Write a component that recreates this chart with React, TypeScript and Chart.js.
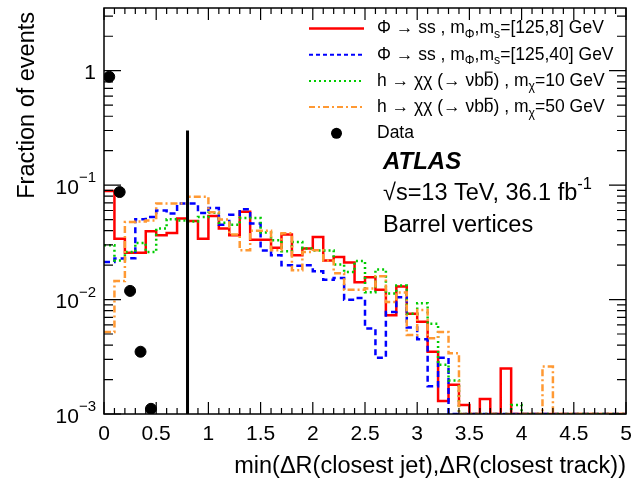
import React, { useEffect, useRef } from "react";
import { Chart, registerables } from "chart.js";

Chart.register(...registerables);

// ---- axis ranges / ticks ----
const X_MIN = 0;
const X_MAX = 5;
const Y_MIN = 1e-3;
const Y_MAX = 3.53;
const BIN_W = 0.1;
const X_TICK_VALUES = [0, 0.5, 1, 1.5, 2, 2.5, 3, 3.5, 4, 4.5, 5];
const X_TICK_LABELS = ["0", "0.5", "1", "1.5", "2", "2.5", "3", "3.5", "4", "4.5", "5"];
const Y_DECADES = [-3, -2, -1, 0];

// ---- series (fraction of events per 0.1 bin, from 0 to 5) ----
const phiSs_125_8 = [
  0.089, 0.034, 0.0257, 0.0257, 0.0395, 0.0365, 0.0382, 0.051, 0.0487, 0.034,
  0.0538, 0.0417, 0.0365, 0.0584, 0.0334, 0.0334, 0.0283, 0.037, 0.0244, 0.0279,
  0.0352, 0.022, 0.0236, 0.0211, 0.0142, 0.0157, 0.0122, 0.0073, 0.013, 0.0075,
  0.0064, 0.0035, 0.0013, 0.0018, 0.0012, 0, 0.00135, 0, 0.0025, 0,
  0, 0, 0, 0, 0, 0, 0, 0, 0, 0,
];
const phiSs_125_40 = [
  0.0213, 0.0228, 0.023, 0.0503, 0.0527, 0.06, 0.0565, 0.069, 0.069, 0.057,
  0.063, 0.045, 0.055, 0.0615, 0.0461, 0.0269, 0.0244, 0.0199, 0.0197, 0.0199,
  0.0177, 0.0149, 0.0154, 0.00997, 0.0103, 0.0056, 0.0031, 0.0078, 0.0105, 0.0057,
  0.0045, 0.00175, 0.0031, 0, 0, 0, 0, 0, 0, 0,
  0, 0, 0, 0, 0, 0, 0, 0, 0, 0,
];
const hChiChi_10 = [
  0.0298, 0.022, 0.026, 0.0312, 0.026, 0.0417, 0.0503, 0.049, 0.048, 0.0527,
  0.0575, 0.047, 0.045, 0.0516, 0.0516, 0.0385, 0.033, 0.0264, 0.0318, 0.028,
  0.0269, 0.0269, 0.0202, 0.0174, 0.0217, 0.0116, 0.0183, 0.0113, 0.0133, 0.0075,
  0.0093, 0.00615, 0.0027, 0.00196, 0, 0, 0, 0, 0, 0.0012,
  0, 0, 0, 0, 0, 0, 0, 0, 0, 0,
];
const hChiChi_50 = [
  0.0052, 0.0145, 0.0477, 0.048, 0.049, 0.069, 0.069, 0.069, 0.079, 0.079,
  0.058, 0.05, 0.037, 0.027, 0.04, 0.04, 0.027, 0.038, 0.018, 0.026,
  0.027, 0.022, 0.017, 0.0122, 0.0122, 0.0125, 0.016, 0.0095, 0.0115, 0.0049,
  0.0081, 0.0046, 0.0052, 0.0034, 0, 0, 0, 0, 0, 0,
  0, 0, 0.0026, 0, 0, 0, 0, 0, 0, 0,
];
const dataX = [0.05, 0.15, 0.25, 0.35, 0.45];
const dataY = [0.885, 0.087, 0.0119, 0.0035, 0.00111];
const cutX = 0.8;
const cutTop = 0.3;

const FONT = '"Liberation Sans", Arial, Helvetica, sans-serif';

function histPoints(vals: number[]) {
  const pts = vals.map((v, i) => ({
    x: Math.round(i * BIN_W * 10) / 10,
    y: v > 0 ? v : Y_MIN,
  }));
  pts.push({ x: X_MAX, y: pts[pts.length - 1].y });
  return pts;
}

type Seg = { t: string; sub?: boolean; sup?: boolean; over?: boolean };

function drawRich(ctx: CanvasRenderingContext2D, segs: Seg[], x: number, y: number, size: number, style = "") {
  let cx = x;
  ctx.textAlign = "left";
  ctx.textBaseline = "middle";
  for (const s of segs) {
    const sz = s.sub || s.sup ? size * 0.7 : size;
    ctx.font = `${style} ${sz}px ${FONT}`;
    const dy = s.sub ? size * 0.35 : s.sup ? -size * 0.42 : 0;
    ctx.fillText(s.t, cx, y + dy);
    const w = ctx.measureText(s.t).width;
    if (s.over) {
      ctx.save();
      ctx.lineWidth = 1.2;
      ctx.beginPath();
      ctx.moveTo(cx + 1, y - size * 0.5);
      ctx.lineTo(cx + w - 1, y - size * 0.5);
      ctx.stroke();
      ctx.restore();
    }
    cx += w;
  }
  return cx;
}

const LEGEND = [
  { color: "#ff0000", dash: [] as number[], width: 2.5, segs: [
    { t: "Φ → ss , m" }, { t: "Φ", sub: true }, { t: ",m" }, { t: "s", sub: true }, { t: "=[125,8] GeV" }] },
  { color: "#0000ff", dash: [4, 3], width: 2, segs: [
    { t: "Φ → ss , m" }, { t: "Φ", sub: true }, { t: ",m" }, { t: "s", sub: true }, { t: "=[125,40] GeV" }] },
  { color: "#00cc00", dash: [2, 3], width: 2, segs: [
    { t: "h → χχ (→ νb" }, { t: "b", over: true }, { t: ") , m" }, { t: "χ", sub: true }, { t: "=10 GeV" }] },
  { color: "#ff9933", dash: [6, 3, 2, 3], width: 2, segs: [
    { t: "h → χχ (→ νb" }, { t: "b", over: true }, { t: ") , m" }, { t: "χ", sub: true }, { t: "=50 GeV" }] },
];

const decorPlugin = {
  id: "decor",
  afterDraw(chart: any) {
    const { ctx, chartArea: ca, scales } = chart;
    const xs = scales.x;
    const ys = scales.y;
    ctx.save();
    ctx.strokeStyle = "#000";
    ctx.fillStyle = "#000";

    // frame
    ctx.lineWidth = 1.5;
    ctx.strokeRect(ca.left, ca.top, ca.right - ca.left, ca.bottom - ca.top);

    // x ticks (inward, bottom and top)
    ctx.lineWidth = 1.2;
    ctx.beginPath();
    for (let i = 0; i <= 50; i++) {
      const v = i * BIN_W;
      const px = xs.getPixelForValue(v);
      const len = i % 5 === 0 ? 12 : 6;
      ctx.moveTo(px, ca.bottom);
      ctx.lineTo(px, ca.bottom - len);
      ctx.moveTo(px, ca.top);
      ctx.lineTo(px, ca.top + len);
    }
    // y ticks (inward, left and right)
    for (const d of Y_DECADES) {
      for (let k = 1; k <= 9; k++) {
        const v = k * Math.pow(10, d);
        if (v > Y_MAX) break;
        const py = ys.getPixelForValue(v);
        const len = k === 1 ? 17 : 9;
        ctx.moveTo(ca.left, py);
        ctx.lineTo(ca.left + len, py);
        ctx.moveTo(ca.right, py);
        ctx.lineTo(ca.right - len, py);
      }
    }
    ctx.stroke();

    // x tick labels
    ctx.font = `21px ${FONT}`;
    ctx.textAlign = "center";
    ctx.textBaseline = "middle";
    X_TICK_VALUES.forEach((v, i) => {
      ctx.fillText(X_TICK_LABELS[i], xs.getPixelForValue(v), ca.bottom + 20);
    });

    // y tick labels
    for (const d of Y_DECADES) {
      const py = ys.getPixelForValue(Math.pow(10, d));
      const right = ca.left - 8;
      if (d === 0) {
        ctx.font = `21px ${FONT}`;
        ctx.textAlign = "right";
        ctx.fillText("1", right, py + 3);
      } else {
        const sup = String(d).replace("-", "−");
        ctx.font = `15px ${FONT}`;
        const sw = ctx.measureText(sup).width;
        ctx.font = `21px ${FONT}`;
        const bw = ctx.measureText("10").width;
        ctx.textAlign = "left";
        ctx.fillText("10", right - sw - bw, py + 3);
        ctx.font = `15px ${FONT}`;
        ctx.fillText(sup, right - sw, py - 7);
      }
    }

    // axis titles
    ctx.font = `23.5px ${FONT}`;
    ctx.textAlign = "right";
    ctx.textBaseline = "middle";
    ctx.fillText("min(ΔR(closest jet),ΔR(closest track))", ca.right, 467);
    ctx.save();
    ctx.translate(28, ca.top + 4);
    ctx.rotate(-Math.PI / 2);
    ctx.fillText("Fraction of events", 0, 0);
    ctx.restore();

    // legend
    const lx0 = 309, lx1 = 364, tx = 377;
    LEGEND.forEach((e, i) => {
      const yy = 28.5 + i * 26.2;
      ctx.save();
      ctx.strokeStyle = e.color;
      ctx.lineWidth = e.width;
      ctx.setLineDash(e.dash);
      ctx.beginPath();
      ctx.moveTo(lx0, yy);
      ctx.lineTo(lx1, yy);
      ctx.stroke();
      ctx.restore();
      ctx.fillStyle = "#000";
      drawRich(ctx, e.segs, tx, yy, 17.5);
    });
    const dy = 28.5 + 4 * 26.2;
    ctx.beginPath();
    ctx.arc((lx0 + lx1) / 2, dy, 5.5, 0, Math.PI * 2);
    ctx.fill();
    ctx.font = `17.5px ${FONT}`;
    ctx.textAlign = "left";
    ctx.fillText("Data", tx, dy);

    // ATLAS label
    ctx.font = `italic bold 24px ${FONT}`;
    ctx.fillText("ATLAS", 383, 162);
    drawRich(ctx, [{ t: "√s=13 TeV, 36.1 fb" }, { t: "-1", sup: true }], 383, 194, 23.5);
    ctx.font = `23.5px ${FONT}`;
    ctx.textAlign = "left";
    ctx.fillText("Barrel vertices", 383, 226);

    ctx.restore();
  },
};

export default function App() {
  const ref = useRef<HTMLCanvasElement>(null);
  useEffect(() => {
    document.body.style.margin = "0";
    const histo = (label: string, vals: number[], color: string, dash: number[], width: number, order: number) => ({
      type: "line" as const,
      label,
      data: histPoints(vals),
      borderColor: color,
      borderWidth: width,
      borderDash: dash,
      stepped: "before" as const,
      pointRadius: 0,
      fill: false,
      order,
    });
    const chart = new Chart(ref.current!, {
      type: "line",
      data: {
        datasets: [
          {
            type: "scatter",
            label: "Data",
            data: dataX.map((x, i) => ({ x, y: dataY[i] })),
            backgroundColor: "#000",
            borderColor: "#000",
            pointRadius: 5.5,
            showLine: false,
            order: 0,
          } as any,
          {
            type: "line",
            label: "cut",
            data: [{ x: cutX, y: Y_MIN }, { x: cutX, y: cutTop }],
            borderColor: "#000",
            borderWidth: 3,
            pointRadius: 0,
            order: 1,
          } as any,
          histo("h→χχ 50", hChiChi_50, "#ff9933", [7, 3, 2, 3], 2.5, 2),
          histo("h→χχ 10", hChiChi_10, "#00cc00", [2, 3], 2.5, 3),
          histo("Φ→ss 125,40", phiSs_125_40, "#0000ff", [6, 4], 2.5, 4),
          histo("Φ→ss 125,8", phiSs_125_8, "#ff0000", [], 2.5, 5),
        ],
      },
      options: {
        responsive: false,
        animation: false,
        events: [],
        layout: { padding: { left: 104, right: 8, top: 8, bottom: 74 } },
        plugins: { legend: { display: false }, tooltip: { enabled: false } },
        scales: {
          x: { type: "linear", min: X_MIN, max: X_MAX, display: false },
          y: { type: "logarithmic", min: Y_MIN, max: Y_MAX, display: false },
        },
      },
      plugins: [decorPlugin],
    });
    return () => chart.destroy();
  }, []);
  return (
    <div style={{ width: 634, height: 488 }}>
      <canvas ref={ref} width={634} height={488} style={{ display: "block" }} />
    </div>
  );
}
